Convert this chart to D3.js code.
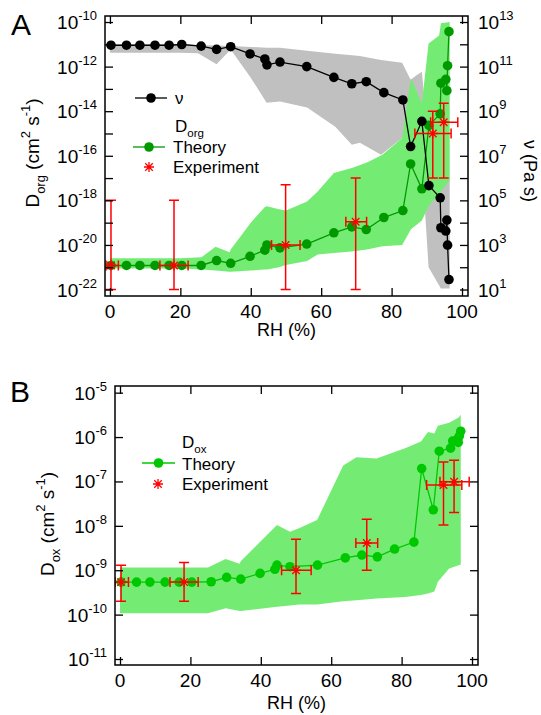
<!DOCTYPE html>
<html>
<head>
<meta charset="utf-8">
<script src="https://cdn.jsdelivr.net/npm/d3@7"></script>
<style>
  body { margin: 0; background: #fff; }
  text { font-family: "Liberation Sans", Arial, sans-serif; fill: #000; }
</style>
</head>
<body>
<div id="chart"></div>
<script>
const width = 541, height = 715;

// model points (RH %) for panel A
const rhA = [0.3, 4.7, 8.5, 12.8, 16.8, 20.4, 25.9, 30.3, 34.3, 39.8, 44.0, 44.6, 48.3,
  55.9, 63.6, 68.7, 72.8, 77.8, 83.2, 85.4, 88.6, 90.6, 93.8, 94.0, 95.4, 95.7, 95.9, 96.3];
// viscosity nu (Pa s)
const nuTheory = [9.1e11, 9.1e11, 9.1e11, 9.1e11, 9.1e11, 9.8e11, 8.3e11, 5.9e11, 7.8e11, 3.7e11, 2.2e11, 1.2e11, 1.6e11,
  1.0e11, 3.3e10, 1.7e10, 2.1e10, 6.8e9, 3.2e9, 2.6e7, 3.5e8, 4.6e5, 1.3e5, 5.9e3, 4.2e3, 1.3e4, 9.8e2, 28];
// D_org theory (cm2 s-1)
const dorgTheory = [1.2e-21, 1.2e-21, 1.2e-21, 1.2e-21, 1.2e-21, 1.2e-21, 1.2e-21, 2.0e-21, 1.5e-21, 3.1e-21, 5.8e-21, 1.0e-20, 7.4e-21,
  1.1e-20, 3.5e-20, 6.5e-20, 4.9e-20, 1.7e-19, 3.5e-19, 4.3e-17, 3.3e-18, 2.3e-15, 7.6e-15, 1.8e-13, 2.7e-13, 8.3e-14, 1.1e-12, 3.7e-11];

// grey band (nu range)
const nuBandRh = [0, 20, 25, 30.3, 34.3, 40, 44.5, 48.3, 56, 64, 68.7, 71, 77, 83, 85.4, 87, 88.6, 89.5, 90.5, 94, 96.5];
const nuBandHi = [1e12, 1e12, 9.3e11, 8.9e11, 8.3e11, 7.6e11, 7.1e11, 7.1e11, 5.2e11, 3.8e11, 3.2e11, 3.0e11, 2.0e11, 1.5e11,
  2.6e10, 4e10, 5.9e10, 1.6e9, 1e8, 3.2e6, 1e6];
const nuBandLo = [4.2e11, 4.2e11, 4.0e11, 1.26e11, 5.9e11, 3.2e10, 2.4e9, 2.75e9, 1.45e9, 2e8, 3.1e7, 3.8e7, 1.1e7, 6.3e7,
  2.5e7, 1.6e7, 1e7, 3.2e4, 100, 11, 11];

// green band (D_org range)
const dorgBandRh = [0, 20, 26, 30, 34, 34.3, 40, 44, 44.6, 48, 50, 56, 59, 63.6, 68.7, 73, 77.4, 83, 85.5, 88.6, 90.5, 93.5, 94, 96.5];
const dorgBandHi = [2.5e-21, 2.5e-21, 2.8e-21, 8.3e-21, 4.7e-21, 6.3e-21, 1e-19, 5e-19, 5.4e-19, 4e-19, 3.5e-19, 8.9e-19, 2.5e-18,
  1.7e-17, 2.8e-17, 5e-17, 1.1e-16, 6.2e-16, 3e-13, 2.3e-14, 1.1e-11, 2.5e-11, 8.7e-11, 1e-10];
const dorgBandLo = [8.7e-22, 8.7e-22, 7.9e-22, 7.1e-22, 6.3e-22, 6.3e-22, 7.1e-22, 7.9e-22, 7.9e-22, 1e-21, 1.26e-21, 1.9e-21, 3.7e-21,
  4.3e-21, 5.1e-21, 6.3e-21, 8.7e-21, 1e-20, 5e-20, 1.26e-19, 5.4e-19, 2e-18, 2.5e-18, 7.9e-18];

// D_org experiment
const expRhA = [0.3, 18.2, 49.9, 69.8, 91.7, 94.8];
const expRhLoA = [-1.1, 14.2, 45.9, 67.0, 86.6, 91.1];
const expRhHiA = [2.4, 22.2, 54.0, 72.9, 96.9, 98.8];
const expDorg = [1.2e-21, 1.2e-21, 1e-20, 1.1e-19, 1.0e-15, 3.2e-15];
const expDorgLo = [1e-22, 1e-22, 1e-22, 1e-22, 1e-17, 1e-17];
const expDorgHi = [1e-18, 1e-18, 5e-18, 1e-17, 1e-14, 2.3e-14];

// panel B
const rhB = [0.3, 4.7, 8.5, 12.8, 16.8, 20.4, 25.9, 30.3, 34.3, 39.8, 44.0, 44.6, 48.3,
  56.1, 64.0, 68.7, 73.1, 78.0, 83.5, 85.7, 89.0, 90.7, 93.9, 94.5, 95.8, 96.1, 96.4, 96.8];
const doxTheory = [5.4e-10, 5.4e-10, 5.4e-10, 5.4e-10, 5.4e-10, 5.4e-10, 5.5e-10, 6.9e-10, 6.3e-10, 8.5e-10, 1.05e-9, 1.3e-9, 1.2e-9,
  1.3e-9, 1.9e-9, 2.2e-9, 2.0e-9, 3.0e-9, 4.3e-9, 1.95e-7, 2.3e-8, 4.8e-7, 5.6e-7, 8.1e-7, 8.9e-7, 7.6e-7, 1.05e-6, 1.35e-6];

const doxBandRh = [0, 25, 30, 34, 34.3, 44.6, 48.3, 51, 56, 63.4, 67.2, 72.9, 81, 85.5, 87.5, 89.3, 90.3, 93.5, 96.2, 96.8];
const doxBandHi = [1.15e-9, 1.15e-9, 1.8e-9, 1.4e-9, 1.6e-9, 1.05e-8, 7.4e-9, 8.9e-9, 1.35e-8, 2.3e-7, 3.5e-7, 3.3e-7, 5.6e-7,
  7.9e-7, 1.3e-6, 1.2e-6, 1.8e-6, 2.1e-6, 2.75e-6, 3.2e-6];
const doxBandLo = [1.07e-10, 1.07e-10, 1.4e-10, 1.2e-10, 1.2e-10, 1.5e-10, 1.6e-10, 1.7e-10, 1.7e-10, 2e-10, 2.1e-10, 2.3e-10,
  2.5e-10, 2.75e-10, 3e-10, 3.3e-10, 5.5e-10, 1.1e-9, 1.3e-9, 1.35e-9];

const expRhB = [0.3, 18.2, 50.0, 70.1, 91.9, 94.9];
const expRhLoB = [-1.4, 14.2, 45.9, 67.0, 87.1, 90.9];
const expRhHiB = [2.4, 22.2, 54.3, 73.2, 97.1, 99.2];
const expDox = [5.4e-10, 5.4e-10, 1.0e-9, 4.1e-9, 8.3e-8, 9.8e-8];
const expDoxLo = [2.0e-10, 2.0e-10, 3.0e-10, 1.0e-9, 1.05e-8, 2.0e-8];
const expDoxHi = [1.3e-9, 1.5e-9, 5.0e-9, 1.4e-8, 2.75e-7, 3.0e-7];

const xTicks = [0, 20, 40, 60, 80, 100];
const bandGreen = "#74ec74";

const svg = d3.select("#chart").append("svg")
    .attr("width", width)
    .attr("height", height);
const defs = svg.append("defs");

// text with sub/superscripts: parts = [[string, "n"|"sub"|"sup"], ...]
function rich(sel, parts, size) {
  let shift = 0;
  parts.forEach(([s, mode]) => {
    const target = mode === "sup" ? -size * 0.45 : mode === "sub" ? size * 0.3 : 0;
    sel.append("tspan")
      .attr("dy", target - shift)
      .style("font-size", (mode === "n" ? size : size * 0.68) + "px")
      .text(s);
    shift = target;
  });
}

function powLabel(g, x, y, e, anchor) {
  const t = g.append("text").attr("x", x).attr("y", y + 7).attr("text-anchor", anchor);
  t.append("tspan").style("font-size", "19px").text("10");
  t.append("tspan").attr("dy", -9).style("font-size", "13px").text(e);
}

function star(g, x, y, r, color) {
  g.append("path")
    .attr("d", `M${x - r},${y}H${x + r}M${x},${y - r}V${y + r}` +
      `M${x - r * 0.75},${y - r * 0.75}L${x + r * 0.75},${y + r * 0.75}` +
      `M${x - r * 0.75},${y + r * 0.75}L${x + r * 0.75},${y - r * 0.75}`)
    .attr("stroke", color).attr("stroke-width", 1.3).attr("fill", "none");
}

function drawExperiment(g, x, y, rh, rhLo, rhHi, v, lo, hi) {
  const red = "#ff0000";
  rh.forEach((r, i) => {
    const cx = x(r), cy = y(v[i]);
    const y0 = y(lo[i]), y1 = y(hi[i]), x0 = x(rhLo[i]), x1 = x(rhHi[i]);
    g.append("path")
      .attr("d", `M${cx},${y0}V${y1}M${cx - 5},${y0}H${cx + 5}M${cx - 5},${y1}H${cx + 5}` +
        `M${x0},${cy}H${x1}M${x0},${cy - 5}V${cy + 5}M${x1},${cy - 5}V${cy + 5}`)
      .attr("stroke", red).attr("stroke-width", 1.5).attr("fill", "none");
    star(g, cx, cy, 5, red);
  });
}

function drawSeries(g, x, y, rh, vals, color) {
  const line = d3.line().x((d, i) => x(rh[i])).y(d => y(d));
  g.append("path").datum(vals).attr("d", line)
    .attr("fill", "none").attr("stroke", color).attr("stroke-width", 1.3);
  g.selectAll(null).data(vals).enter().append("circle")
    .attr("cx", (d, i) => x(rh[i])).attr("cy", d => y(d))
    .attr("r", 4.8).attr("fill", color);
}

function band(g, x, y, rh, lo, hi, fill) {
  const area = d3.area()
    .x((d, i) => x(rh[i]))
    .y0((d, i) => y(lo[i]))
    .y1((d, i) => y(hi[i]));
  g.append("path").datum(rh).attr("d", area).attr("fill", fill).attr("stroke", "none");
}

function tickAxis(g, axis, tx, ty) {
  const a = g.append("g").attr("transform", `translate(${tx},${ty})`).call(axis);
  a.select(".domain").remove();
  a.selectAll(".tick line").attr("stroke", "#000").attr("stroke-width", 1.3);
  a.selectAll(".tick text").remove();
}

// ---------------- Panel A ----------------
const A = { l: 105, r: 468, t: 16, b: 296 };
const xA = d3.scaleLinear().domain([-1.4, 101.7]).range([A.l, A.r]);
const yA = d3.scaleLog().domain([Math.pow(10, -22.29), Math.pow(10, -9.73)]).range([A.b, A.t]);
const nuA = d3.scaleLog().domain([Math.pow(10, 0.71), Math.pow(10, 13.27)]).range([A.b, A.t]);

defs.append("clipPath").attr("id", "clipA").append("rect")
  .attr("x", A.l).attr("y", A.t).attr("width", A.r - A.l).attr("height", A.b - A.t);

const gA = svg.append("g");
const plotA = gA.append("g").attr("clip-path", "url(#clipA)");
band(plotA, xA, nuA, nuBandRh, nuBandLo, nuBandHi, "#c0c0c0");
band(plotA, xA, yA, dorgBandRh, dorgBandLo, dorgBandHi, bandGreen);
drawSeries(plotA, xA, yA, rhA, dorgTheory, "#009a00");
drawSeries(plotA, xA, nuA, rhA, nuTheory, "#000000");
drawExperiment(plotA, xA, yA, expRhA, expRhLoA, expRhHiA, expDorg, expDorgLo, expDorgHi);

const decA = d3.range(-22, -9).map(e => Math.pow(10, e));
const decNu = d3.range(1, 14).map(e => Math.pow(10, e));
tickAxis(gA, d3.axisLeft(yA).tickValues(decA).tickSize(-8).tickSizeOuter(0), A.l, 0);
tickAxis(gA, d3.axisRight(nuA).tickValues(decNu).tickSize(-8).tickSizeOuter(0), A.r, 0);
tickAxis(gA, d3.axisBottom(xA).tickValues(xTicks).tickSize(-8).tickSizeOuter(0), 0, A.b);
tickAxis(gA, d3.axisTop(xA).tickValues(xTicks).tickSize(-8).tickSizeOuter(0), 0, A.t);
gA.append("rect").attr("x", A.l).attr("y", A.t).attr("width", A.r - A.l).attr("height", A.b - A.t)
  .attr("fill", "none").attr("stroke", "#000").attr("stroke-width", 1.5);

d3.range(-22, -9, 2).forEach(e => powLabel(gA, A.l - 8, yA(Math.pow(10, e)), String(e), "end"));
d3.range(1, 14, 2).forEach(e => powLabel(gA, A.r + 10, nuA(Math.pow(10, e)), String(e), "start"));
xTicks.forEach(v => gA.append("text").attr("x", xA(v)).attr("y", A.b + 22)
  .attr("text-anchor", "middle").style("font-size", "19px").text(v));

gA.append("text").attr("x", (A.l + A.r) / 2).attr("y", A.b + 40).attr("text-anchor", "middle")
  .style("font-size", "18px").text("RH (%)");
rich(gA.append("text").attr("transform", "translate(39,153) rotate(-90)").attr("text-anchor", "middle"),
  [["D", "n"], ["org", "sub"], [" (cm", "n"], ["2", "sup"], [" s", "n"], ["-1", "sup"], [")", "n"]], 19);
gA.append("text").attr("transform", "translate(524,171) rotate(90)").attr("text-anchor", "middle")
  .style("font-size", "18px").text("ν (Pa s)");
gA.append("text").attr("x", 11).attr("y", 35).style("font-size", "30px").text("A");

// legend A
const legA = gA.append("g");
legA.append("line").attr("x1", 135).attr("x2", 167).attr("y1", 98).attr("y2", 98)
  .attr("stroke", "#000").attr("stroke-width", 1.3);
legA.append("circle").attr("cx", 151).attr("cy", 98).attr("r", 4.8).attr("fill", "#000");
legA.append("text").attr("x", 175).attr("y", 104).style("font-size", "17px").text("ν");
rich(legA.append("text").attr("x", 175).attr("y", 132), [["D", "n"], ["org", "sub"]], 17);
legA.append("line").attr("x1", 133).attr("x2", 165).attr("y1", 147).attr("y2", 147)
  .attr("stroke", "#009a00").attr("stroke-width", 1.3);
legA.append("circle").attr("cx", 149).attr("cy", 147).attr("r", 4.8).attr("fill", "#009a00");
legA.append("text").attr("x", 173).attr("y", 153).style("font-size", "17px").text("Theory");
star(legA, 149, 167, 5, "#ff0000");
legA.append("text").attr("x", 173).attr("y", 173).style("font-size", "17px").text("Experiment");

// ---------------- Panel B ----------------
const B = { l: 115, r: 478, t: 386, b: 665 };
const xB = d3.scaleLinear().domain([-1.42, 101.7]).range([B.l, B.r]);
const yB = d3.scaleLog().domain([Math.pow(10, -11.135), Math.pow(10, -4.85)]).range([B.b, B.t]);

defs.append("clipPath").attr("id", "clipB").append("rect")
  .attr("x", B.l).attr("y", B.t).attr("width", B.r - B.l).attr("height", B.b - B.t);

const gB = svg.append("g");
const plotB = gB.append("g").attr("clip-path", "url(#clipB)");
band(plotB, xB, yB, doxBandRh, doxBandLo, doxBandHi, bandGreen);
drawSeries(plotB, xB, yB, rhB, doxTheory, "#00c800");
drawExperiment(plotB, xB, yB, expRhB, expRhLoB, expRhHiB, expDox, expDoxLo, expDoxHi);

const decB = d3.range(-11, -4).map(e => Math.pow(10, e));
tickAxis(gB, d3.axisLeft(yB).tickValues(decB).tickSize(-8).tickSizeOuter(0), B.l, 0);
tickAxis(gB, d3.axisRight(yB).tickValues(decB).tickSize(-8).tickSizeOuter(0), B.r, 0);
tickAxis(gB, d3.axisBottom(xB).tickValues(xTicks).tickSize(-8).tickSizeOuter(0), 0, B.b);
tickAxis(gB, d3.axisTop(xB).tickValues(xTicks).tickSize(-8).tickSizeOuter(0), 0, B.t);
gB.append("rect").attr("x", B.l).attr("y", B.t).attr("width", B.r - B.l).attr("height", B.b - B.t)
  .attr("fill", "none").attr("stroke", "#000").attr("stroke-width", 1.5);

d3.range(-11, -4).forEach(e => powLabel(gB, B.l - 8, yB(Math.pow(10, e)), String(e), "end"));
xTicks.forEach(v => gB.append("text").attr("x", xB(v)).attr("y", B.b + 22)
  .attr("text-anchor", "middle").style("font-size", "19px").text(v));
gB.append("text").attr("x", (B.l + B.r) / 2).attr("y", B.b + 44).attr("text-anchor", "middle")
  .style("font-size", "18px").text("RH (%)");
rich(gB.append("text").attr("transform", "translate(54,524) rotate(-90)").attr("text-anchor", "middle"),
  [["D", "n"], ["ox", "sub"], [" (cm", "n"], ["2", "sup"], [" s", "n"], ["-1", "sup"], [")", "n"]], 19);
gB.append("text").attr("x", 10).attr("y", 402).style("font-size", "30px").text("B");

// legend B
const legB = gB.append("g");
rich(legB.append("text").attr("x", 182).attr("y", 448), [["D", "n"], ["ox", "sub"]], 17);
legB.append("line").attr("x1", 142).attr("x2", 175).attr("y1", 463).attr("y2", 463)
  .attr("stroke", "#00c800").attr("stroke-width", 1.3);
legB.append("circle").attr("cx", 158.5).attr("cy", 463).attr("r", 4.8).attr("fill", "#00c800");
legB.append("text").attr("x", 182).attr("y", 470).style("font-size", "17px").text("Theory");
star(legB, 158, 484, 5, "#ff0000");
legB.append("text").attr("x", 182).attr("y", 490).style("font-size", "17px").text("Experiment");
</script>
</body>
</html>
